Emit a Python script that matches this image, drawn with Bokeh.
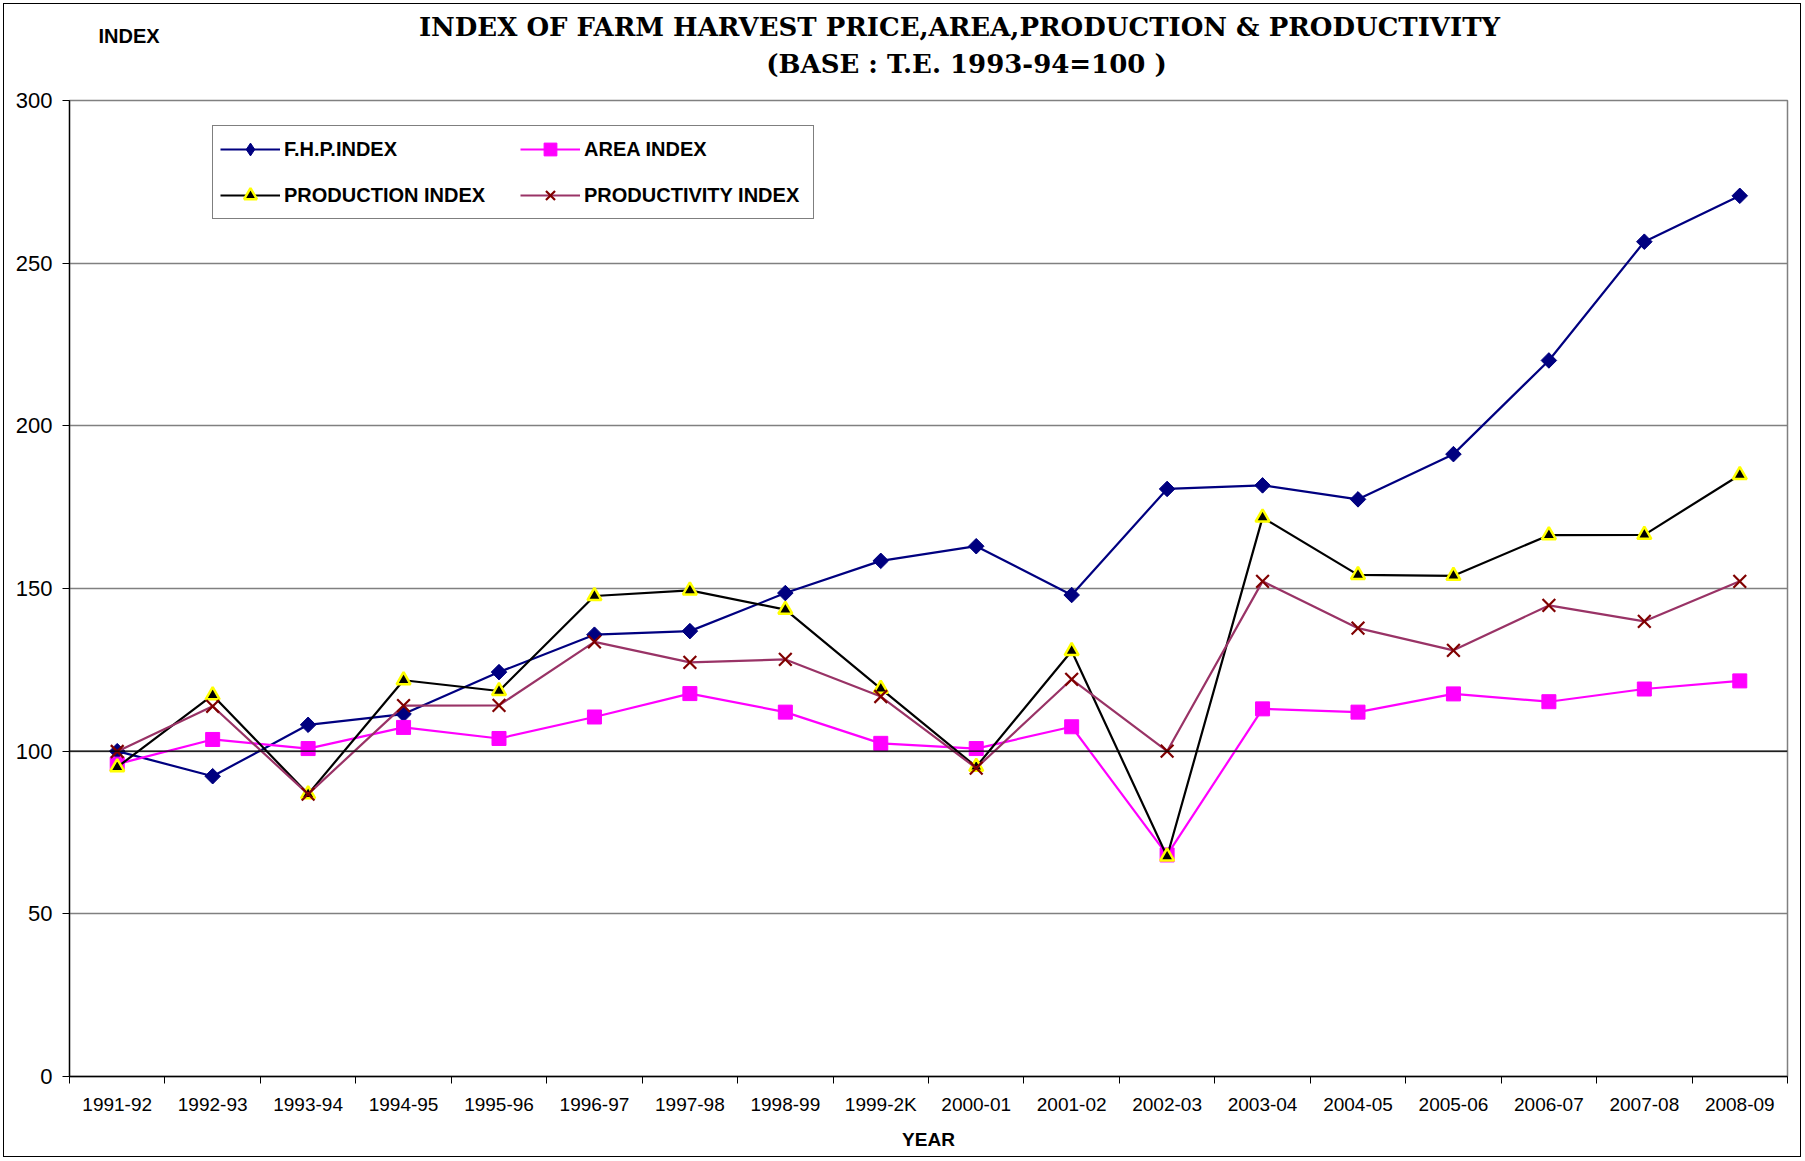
import math
from bokeh.plotting import figure
from bokeh.layouts import column
from bokeh.models import Range1d, FixedTicker, Legend, LegendItem, Label, Span
from bokeh.embed import file_html
from bokeh.resources import INLINE

# ---------------- data ----------------
years = ["1991-92", "1992-93", "1993-94", "1994-95", "1995-96", "1996-97",
         "1997-98", "1998-99", "1999-2K", "2000-01", "2001-02", "2002-03",
         "2003-04", "2004-05", "2005-06", "2006-07", "2007-08", "2008-09"]
fhp_index = [100.0, 92.3, 108.1, 111.4, 124.3, 135.8, 136.9, 148.6, 158.5,
             163.0, 148.0, 180.6, 181.7, 177.4, 191.3, 220.1, 256.6, 270.7]
area_index = [96.0, 103.6, 100.8, 107.3, 103.9, 110.5, 117.7, 112.0, 102.4,
              100.8, 107.5, 68.1, 113.0, 112.0, 117.6, 115.2, 119.1, 121.6]
production_index = [95.1, 117.2, 86.8, 121.8, 118.5, 147.7, 149.4, 143.5, 119.2,
                    95.2, 130.8, 67.6, 171.8, 154.2, 153.9, 166.4, 166.5, 184.9]
productivity_index = [99.9, 113.8, 86.8, 114.0, 114.1, 133.6, 127.3, 128.2, 116.8,
                      94.8, 122.1, 100.0, 152.2, 137.8, 131.0, 144.8, 139.9, 152.2]
y_ticks = [0, 50, 100, 150, 200, 250, 300]
BASE_INDEX = 100

title_line1 = "INDEX OF FARM HARVEST PRICE,AREA,PRODUCTION & PRODUCTIVITY"
title_line2 = "(BASE : T.E. 1993-94=100 )"
y_title = "INDEX"
x_title = "YEAR"

W = 1796
TOP_H = 80
MAIN_H = 1072

# ---------------- title strip (frame is aligned with the main frame) ----------------
top = figure(width=W, height=TOP_H, x_range=Range1d(0, 1), y_range=Range1d(0, 1),
             x_axis_type=None, y_axis_type=None, output_backend="svg",
             toolbar_location=None, min_border_left=65, min_border_right=13,
             min_border_top=0, min_border_bottom=0)
top.outline_line_color = None
top.background_fill_color = "white"
top.border_fill_color = "white"
top.add_layout(Label(x=890, y=58, x_units="screen", y_units="screen",
                     text=title_line1, text_align="center", text_baseline="middle",
                     text_font="DejaVu Serif", text_font_style="bold",
                     text_font_size="26px", text_color="black"))
top.add_layout(Label(x=897, y=21, x_units="screen", y_units="screen",
                     text=title_line2, text_align="center", text_baseline="middle",
                     text_font="DejaVu Serif", text_font_style="bold",
                     text_font_size="26px", text_color="black"))
top.add_layout(Label(x=29, y=49, x_units="screen", y_units="screen",
                     text=y_title, text_align="left", text_baseline="middle",
                     text_font="Liberation Sans", text_font_style="bold",
                     text_font_size="20px", text_color="black"))

# ---------------- main chart ----------------
n = len(years)
xs = [i + 0.5 for i in range(n)]
bounds = list(range(n + 1))

p = figure(width=W, height=MAIN_H,
           x_range=Range1d(0, n), y_range=Range1d(y_ticks[0], y_ticks[-1]),
           output_backend="svg", toolbar_location=None,
           min_border_left=65, min_border_right=13,
           min_border_top=16, min_border_bottom=80)
p.background_fill_color = "white"
p.border_fill_color = "white"
p.outline_line_color = "#808080"
p.outline_line_width = 1.5

p.yaxis.ticker = FixedTicker(ticks=y_ticks)
p.yaxis.major_tick_out = 7
p.yaxis.major_tick_in = 0
p.yaxis.minor_tick_out = 0
p.yaxis.minor_tick_in = 0
p.yaxis.axis_line_color = "black"
p.yaxis.axis_line_width = 1.3
p.yaxis.major_tick_line_color = "black"
p.yaxis.major_label_standoff = 10
p.yaxis.major_label_text_font = "Liberation Sans"
p.yaxis.major_label_text_font_size = "22px"
p.yaxis.major_label_text_color = "black"

p.xaxis.ticker = FixedTicker(ticks=xs, minor_ticks=bounds)
p.xaxis.major_label_overrides = {x: y for x, y in zip(xs, years)}
p.xaxis.major_tick_out = 0
p.xaxis.major_tick_in = 0
p.xaxis.minor_tick_out = 7
p.xaxis.minor_tick_in = 0
p.xaxis.minor_tick_line_color = "black"
p.xaxis.axis_line_color = "black"
p.xaxis.axis_line_width = 1.3
p.xaxis.major_label_standoff = 10
p.xaxis.major_label_text_font = "Liberation Sans"
p.xaxis.major_label_text_font_size = "19px"
p.xaxis.major_label_text_color = "black"
p.xaxis.axis_label = x_title
p.xaxis.axis_label_standoff = 11
p.xaxis.axis_label_text_font = "Liberation Sans"
p.xaxis.axis_label_text_font_size = "19px"
p.xaxis.axis_label_text_font_style = "bold"
p.xaxis.axis_label_text_color = "black"

p.xgrid.visible = False
p.ygrid.ticker = FixedTicker(ticks=y_ticks)
p.ygrid.grid_line_color = "#808080"
p.ygrid.grid_line_width = 1.5

p.add_layout(Span(location=BASE_INDEX, dimension="width",
                  line_color="black", line_width=1.3))

r_fhp_l = p.line(xs, fhp_index, line_color="#000080", line_width=2.2)
r_fhp_k = p.scatter(xs, fhp_index, marker="diamond", size=14,
                    fill_color="#000080", line_color="#000080")
r_fhp_m = p.scatter(xs, fhp_index, marker="square", size=11, angle=math.pi / 4,
                    fill_color="#000080", line_color="#000080")

r_area_l = p.line(xs, area_index, line_color="#FF00FF", line_width=2.2)
r_area_m = p.scatter(xs, area_index, marker="square", size=14,
                     fill_color="#FF00FF", line_color="#FF00FF")

r_prod_l = p.line(xs, production_index, line_color="black", line_width=2.2)
r_prod_m = p.scatter(xs, production_index, marker="triangle", size=14,
                     fill_color="black", line_color="#FFFF00", line_width=2.5)

r_pty_l = p.line(xs, productivity_index, line_color="#993366", line_width=2.2)
r_pty_m = p.scatter(xs, productivity_index, marker="x", size=18,
                    line_color="#800000", line_width=2.2)

legend = Legend(items=[
    LegendItem(label="F.H.P.INDEX", renderers=[r_fhp_l, r_fhp_k]),
    LegendItem(label="AREA INDEX", renderers=[r_area_l, r_area_m]),
    LegendItem(label="PRODUCTION INDEX", renderers=[r_prod_l, r_prod_m]),
    LegendItem(label="PRODUCTIVITY INDEX", renderers=[r_pty_l, r_pty_m]),
], location=(143, 857), orientation="horizontal", ncols=2)
legend.border_line_color = "black"
legend.border_line_width = 1
legend.background_fill_color = "white"
legend.background_fill_alpha = 1
legend.padding = 7
legend.spacing = 14
legend.margin = 0
legend.glyph_width = 60
legend.glyph_height = 32
legend.label_height = 20
legend.label_width = 222
legend.label_standoff = 4
legend.label_text_font = "Liberation Sans"
legend.label_text_font_size = "20px"
legend.label_text_font_style = "bold"
legend.label_text_color = "black"
p.add_layout(legend, "center")

layout = column(top, p, spacing=0)
layout.styles = {"border": "1.5px solid black", "margin": "3px"}

open("out.html", "w").write(file_html(layout, INLINE))
